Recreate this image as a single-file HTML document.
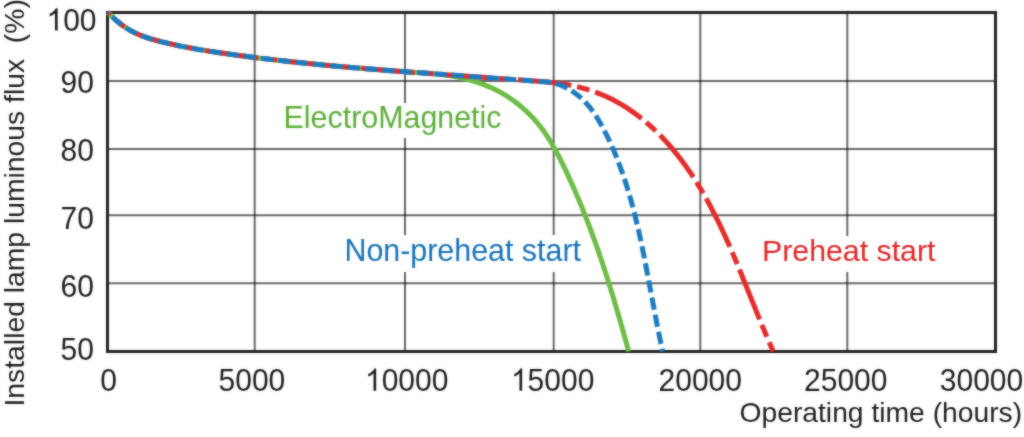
<!DOCTYPE html>
<html><head><meta charset="utf-8"><style>
html,body{margin:0;padding:0;background:#fff;}
body{width:1024px;height:437px;overflow:hidden;position:relative;}
svg{position:absolute;left:0;top:0;will-change:transform;}
text{font-family:"Liberation Sans",sans-serif;}
</style></head><body>
<div id="blur" style="position:absolute;left:0;top:0;width:1024px;height:437px;filter:blur(1.0px);"><svg width="1024" height="437" viewBox="0 0 1024 437"><use href="#chart"/></svg></div>
<div id="crisp" style="position:absolute;left:0;top:0;width:1024px;height:437px;opacity:0.5;"><svg width="1024" height="437" viewBox="0 0 1024 437">
<g id="chart">
<rect width="1024" height="437" fill="#fff"/>
<g stroke="#000" stroke-opacity="0.6" stroke-width="2" fill="none"><line x1="254.7" y1="12.6" x2="254.7" y2="351.5"/><line x1="405.0" y1="12.6" x2="405.0" y2="351.5"/><line x1="553.7" y1="12.6" x2="553.7" y2="351.5"/><line x1="700.3" y1="12.6" x2="700.3" y2="351.5"/><line x1="847.3" y1="12.6" x2="847.3" y2="351.5"/><line x1="107.6" y1="80.9" x2="995.0" y2="80.9"/><line x1="107.6" y1="149.0" x2="995.0" y2="149.0"/><line x1="107.6" y1="215.3" x2="995.0" y2="215.3"/><line x1="107.6" y1="283.3" x2="995.0" y2="283.3"/></g>
<rect x="107.5" y="12.5" width="888" height="339" fill="none" stroke="#222" stroke-width="3"/>
<g font-size="30.0" fill="#1c1c1c"><g transform="translate(0,30.50) scale(1,1.060)"><path d="M763 0H583V1147Q518 1085 412.5 1023Q307 961 223 930V1104Q374 1175 487 1276Q600 1377 647 1472H763V0Z" transform="translate(46.45,0) scale(0.01465,-0.01428)"/><text x="63.13" y="0">00</text></g><g transform="translate(0,92.90) scale(1,1.060)"><text x="60.63" y="0">90</text></g><g transform="translate(0,160.90) scale(1,1.060)"><text x="60.63" y="0">80</text></g><g transform="translate(0,228.50) scale(1,1.060)"><text x="60.63" y="0">70</text></g><g transform="translate(0,296.50) scale(1,1.060)"><text x="60.63" y="0">60</text></g><g transform="translate(0,360.20) scale(1,1.060)"><text x="60.63" y="0">50</text></g><g transform="translate(0,390.70) scale(1,1.060)"><text x="100.21" y="0">0</text></g><g transform="translate(0,390.70) scale(1,1.060)"><text x="218.53" y="0">5000</text></g><g transform="translate(0,390.70) scale(1,1.060)"><path d="M763 0H583V1147Q518 1085 412.5 1023Q307 961 223 930V1104Q374 1175 487 1276Q600 1377 647 1472H763V0Z" transform="translate(364.99,0) scale(0.01465,-0.01428)"/><text x="381.67" y="0">0000</text></g><g transform="translate(0,390.70) scale(1,1.060)"><path d="M763 0H583V1147Q518 1085 412.5 1023Q307 961 223 930V1104Q374 1175 487 1276Q600 1377 647 1472H763V0Z" transform="translate(510.94,0) scale(0.01465,-0.01428)"/><text x="527.62" y="0">5000</text></g><g transform="translate(0,390.70) scale(1,1.060)"><text x="658.59" y="0">20000</text></g><g transform="translate(0,390.70) scale(1,1.060)"><text x="804.04" y="0">25000</text></g><g transform="translate(0,390.70) scale(1,1.060)"><text x="939.79" y="0">30000</text></g></g>
<text x="739.5" y="421.6" font-size="28.25" fill="#1c1c1c">Operating time (hours)</text>
<text transform="translate(24,406.5) rotate(-90)" font-size="28.3" fill="#1c1c1c" xml:space="preserve">Installed lamp luminous flux  (%)</text>
<rect x="281" y="103" width="225" height="35" fill="#fff"/>
<rect x="342" y="235" width="244" height="37" fill="#fff"/>
<rect x="760" y="236" width="180" height="36" fill="#fff"/>
<g fill="none" stroke-width="5" stroke-linejoin="round">
<path d="M107.80,12.14 L110.80,15.33 L113.80,18.26 L116.80,20.94 L120.80,24.17 L123.80,26.34 L127.80,28.93 L130.80,30.67 L134.80,32.74 L138.80,34.56 L142.80,36.16 L150.80,38.85 L162.80,42.09 L176.80,45.31 L186.80,47.33 L196.80,49.15 L219.80,52.79 L250.80,57.02 L282.80,60.83 L310.80,63.78 L339.80,66.50 L382.80,70.08 L433.32,73.80 L442.58,74.70 L450.61,75.79 L458.48,77.21 L466.43,79.07 L474.43,81.37 L482.43,84.09 L489.26,86.81 L495.66,89.78 L501.98,93.16 L508.19,96.97 L512.68,100.02 L517.02,103.27 L521.23,106.69 L525.29,110.27 L529.21,114.03 L532.96,117.94 L536.56,122.00 L540.08,126.31 L543.26,130.55 L546.44,135.12 L549.61,140.04 L552.70,145.18 L555.78,150.65 L558.98,156.69 L565.96,170.88 L574.37,189.36 L582.43,208.50 L590.24,228.56 L597.85,249.66 L605.28,271.81 L612.71,295.52 L620.34,321.45 L628.71,351.41" stroke="#6cbd45"/>
<path d="M107.80,12.14 L110.80,15.33 L114.80,19.18 L118.80,22.60 L122.80,25.64 L126.80,28.32 L130.80,30.67 L134.80,32.74 L139.80,34.98 L144.80,36.89 L149.80,38.54 L155.80,40.27 L162.80,42.09 L178.80,45.74 L196.80,49.15 L208.80,51.13 L222.80,53.23 L255.80,57.65 L288.80,61.49 L324.80,65.13 L354.80,67.81 L387.80,70.47 L515.80,79.67 L545.18,81.86 L555.92,82.91 L563.55,83.99 L571.28,85.42 L578.83,87.15 L586.33,89.19 L593.21,91.38 L599.71,93.78 L606.18,96.53 L612.49,99.57 L618.17,102.61 L623.83,105.95 L629.47,109.58 L634.96,113.43 L640.42,117.57 L645.83,121.98 L651.18,126.68 L656.37,131.57 L661.59,136.82 L666.64,142.23 L671.61,147.89 L676.48,153.79 L681.26,159.93 L685.95,166.31 L690.54,172.92 L695.10,179.88 L702.80,192.51 L710.34,206.07 L717.85,220.78 L725.39,236.75 L731.03,249.44 L736.99,263.48 L761.78,324.68 L767.70,338.79 L773.13,351.23" stroke="#e52b2b" stroke-dasharray="53.7 6 12.85 6" stroke-dashoffset="50.19"/>
<path d="M107.80,12.14 L110.80,15.33 L114.80,19.18 L118.80,22.60 L122.80,25.64 L126.80,28.32 L130.80,30.67 L134.80,32.74 L139.80,34.98 L144.80,36.89 L150.80,38.85 L156.80,40.54 L164.80,42.58 L172.80,44.44 L181.80,46.35 L199.80,49.67 L211.80,51.60 L226.80,53.80 L258.80,58.02 L291.80,61.82 L327.80,65.41 L359.80,68.23 L395.80,71.08 L547.41,82.02 L550.57,82.43 L553.35,82.95 L556.20,83.66 L559.01,84.53 L561.87,85.61 L564.68,86.85 L567.53,88.30 L570.30,89.90 L574.05,92.37 L577.74,95.17 L581.26,98.20 L584.67,101.52 L587.88,105.03 L590.94,108.79 L593.94,112.88 L596.85,117.29 L599.93,122.42 L603.14,128.27 L606.69,135.22 L610.14,142.45 L613.30,149.54 L616.33,156.80 L619.28,164.33 L622.09,172.02 L626.56,185.41 L630.79,199.60 L634.81,214.70 L638.68,230.93 L641.77,245.14 L644.97,260.97 L657.34,326.04 L660.06,339.30 L662.70,351.36" stroke="#1a7bc0" stroke-dasharray="12.416 5" stroke-dashoffset="10.91"/>
</g>
<text transform="translate(283.6,128) scale(1,1.03)" font-size="30.4" fill="#5aae36">ElectroMagnetic</text>
<text transform="translate(344.5,261) scale(1,1.03)" font-size="30.4" fill="#1572b8">Non-preheat start</text>
<text transform="translate(762,261)" font-size="30.3" fill="#e22424">Preheat start</text>
</g></svg></div>
</body></html>
